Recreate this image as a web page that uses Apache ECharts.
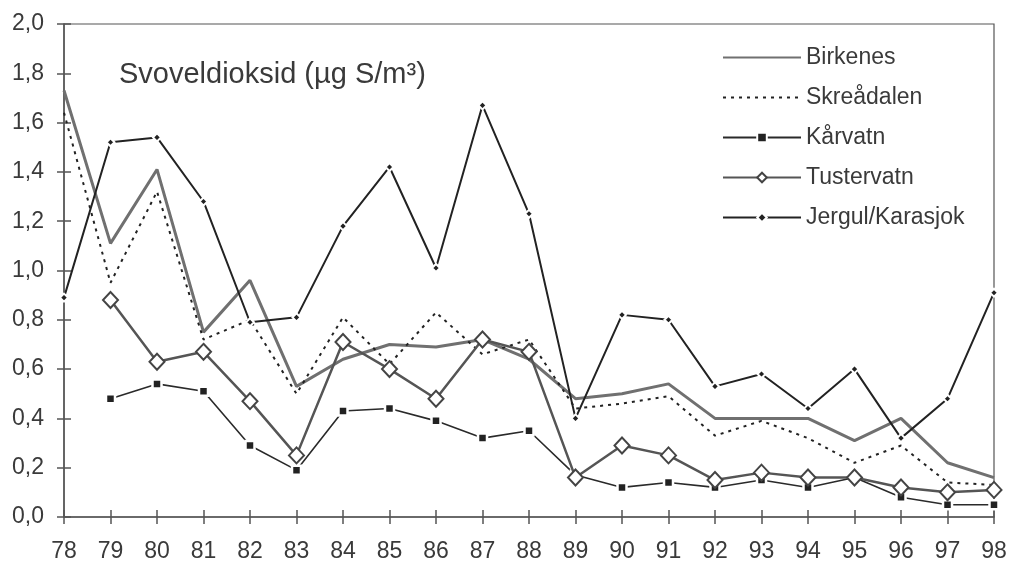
<!DOCTYPE html>
<html>
<head>
<meta charset="utf-8">
<script src="https://cdn.jsdelivr.net/npm/echarts@6/dist/echarts.min.js"></script>
<style>
html,body{margin:0;padding:0;background:#fff;}
#chart{width:1011px;height:565px;}
</style>
</head>
<body>
<div id="chart"></div>
<script>
const years = ['78','79','80','81','82','83','84','85','86','87','88','89','90','91','92','93','94','95','96','97','98'];
const yTickLabels = ['0,0','0,2','0,4','0,6','0,8','1,0','1,2','1,4','1,6','1,8','2,0'];
const chartTitle = 'Svoveldioksid (µg S/m³)';
const seriesNames = ['Birkenes','Skreådalen','Kårvatn','Tustervatn','Jergul/Karasjok'];

const birkenes   = [1.73,1.11,1.41,0.75,0.96,0.53,0.64,0.70,0.69,0.72,0.64,0.48,0.50,0.54,0.40,0.40,0.40,0.31,0.40,0.22,0.16];
const skreadalen = [1.64,0.95,1.32,0.72,0.80,0.50,0.81,0.62,0.83,0.66,0.72,0.44,0.46,0.49,0.33,0.39,0.32,0.22,0.29,0.14,0.13];
const karvatn    = [null,0.48,0.54,0.51,0.29,0.19,0.43,0.44,0.39,0.32,0.35,0.17,0.12,0.14,0.12,0.15,0.12,0.16,0.08,0.05,0.05];
const tustervatn = [null,0.88,0.63,0.67,0.47,0.25,0.71,0.60,0.48,0.72,0.67,0.16,0.29,0.25,0.15,0.18,0.16,0.16,0.12,0.10,0.11];
const jergul     = [0.89,1.52,1.54,1.28,0.79,0.81,1.18,1.42,1.01,1.67,1.23,0.40,0.82,0.80,0.53,0.58,0.44,0.60,0.32,0.48,0.91];

const FONT = 'Liberation Sans';
const TXT = '#3a3a3a';
const AX = '#555';
const CLEAR = 'rgba(0,0,0,0)';

const chart = echarts.init(document.getElementById('chart'), null, {renderer:'canvas'});

const option = {
  backgroundColor:'#fff',
  animation:false,
  title:{
    text: chartTitle,
    left: 114, top: 55,
    textStyle:{fontFamily:FONT, fontSize:29, fontWeight:'normal', color:TXT}
  },
  legend:{
    orient:'vertical',
    left: 717, top: 41,
    itemWidth: 78, itemHeight: 12, itemGap: 17,
    textStyle:{fontFamily:FONT, fontSize:23, color:TXT, padding:[0,0,0,0]},
    data: seriesNames
  },
  grid:{
    left:64, right:17, top:24, bottom:48,
    show:true, borderColor:AX, borderWidth:1.2, backgroundColor:'transparent'
  },
  xAxis:[{
    type:'category', data:years, boundaryGap:false,
    axisLine:{lineStyle:{color:AX, width:1.5}},
    axisTick:{show:true, length:7, alignWithLabel:true, lineStyle:{color:AX, width:1.5}},
    axisLabel:{fontFamily:FONT, fontSize:23, color:TXT, margin:23},
    splitLine:{show:false}
  },{
    type:'category', data:years, boundaryGap:false, position:'bottom',
    axisLine:{show:false},
    axisTick:{show:true, inside:true, length:7, lineStyle:{color:AX, width:1.5}},
    axisLabel:{show:false},
    splitLine:{show:false}
  }],
  yAxis:[{
    type:'value', min:0, max:2, interval:0.2,
    axisLine:{show:true, lineStyle:{color:AX, width:1.5}},
    axisTick:{show:true, length:7, lineStyle:{color:AX, width:1.5}},
    axisLabel:{fontFamily:FONT, fontSize:23, color:TXT, margin:20,
      formatter:(v)=>yTickLabels[Math.round(v/0.2)]},
    splitLine:{show:false}
  },{
    type:'value', min:0, max:2, interval:0.2, position:'left',
    axisLine:{show:false},
    axisTick:{show:true, inside:true, length:7, lineStyle:{color:AX, width:1.5}},
    axisLabel:{show:false},
    splitLine:{show:false}
  }],
  series:[
    {
      name:seriesNames[0], type:'line', data:birkenes, symbol:'circle', showSymbol:false,
      lineStyle:{color:'#707070', width:3}, itemStyle:{color:CLEAR, borderWidth:0}, z:2
    },
    {
      name:seriesNames[1], type:'line', data:skreadalen, symbol:'circle', showSymbol:false,
      lineStyle:{color:'#222', width:2, type:[3,5]}, itemStyle:{color:CLEAR, borderWidth:0}, z:3
    },
    {
      name:seriesNames[2], type:'line', data:karvatn, symbol:'rect', symbolSize:9,
      showAllSymbol:true,
      lineStyle:{color:'#2a2a2a', width:1.6}, itemStyle:{color:'#222', borderColor:'#fff', borderWidth:2.5}, z:4
    },
    {
      name:seriesNames[3], type:'line', data:tustervatn, symbol:'diamond', symbolSize:[15,16],
      showAllSymbol:true,
      lineStyle:{color:'#555', width:2.5}, itemStyle:{color:'#fff', borderColor:'#444', borderWidth:2}, z:5
    },
    {
      name:seriesNames[4], type:'line', data:jergul, symbol:'diamond', symbolSize:[8,8],
      showAllSymbol:true,
      lineStyle:{color:'#222', width:2}, itemStyle:{color:'#222', borderColor:'#fff', borderWidth:2}, z:6
    }
  ]
};
chart.setOption(option);
</script>
</body>
</html>
